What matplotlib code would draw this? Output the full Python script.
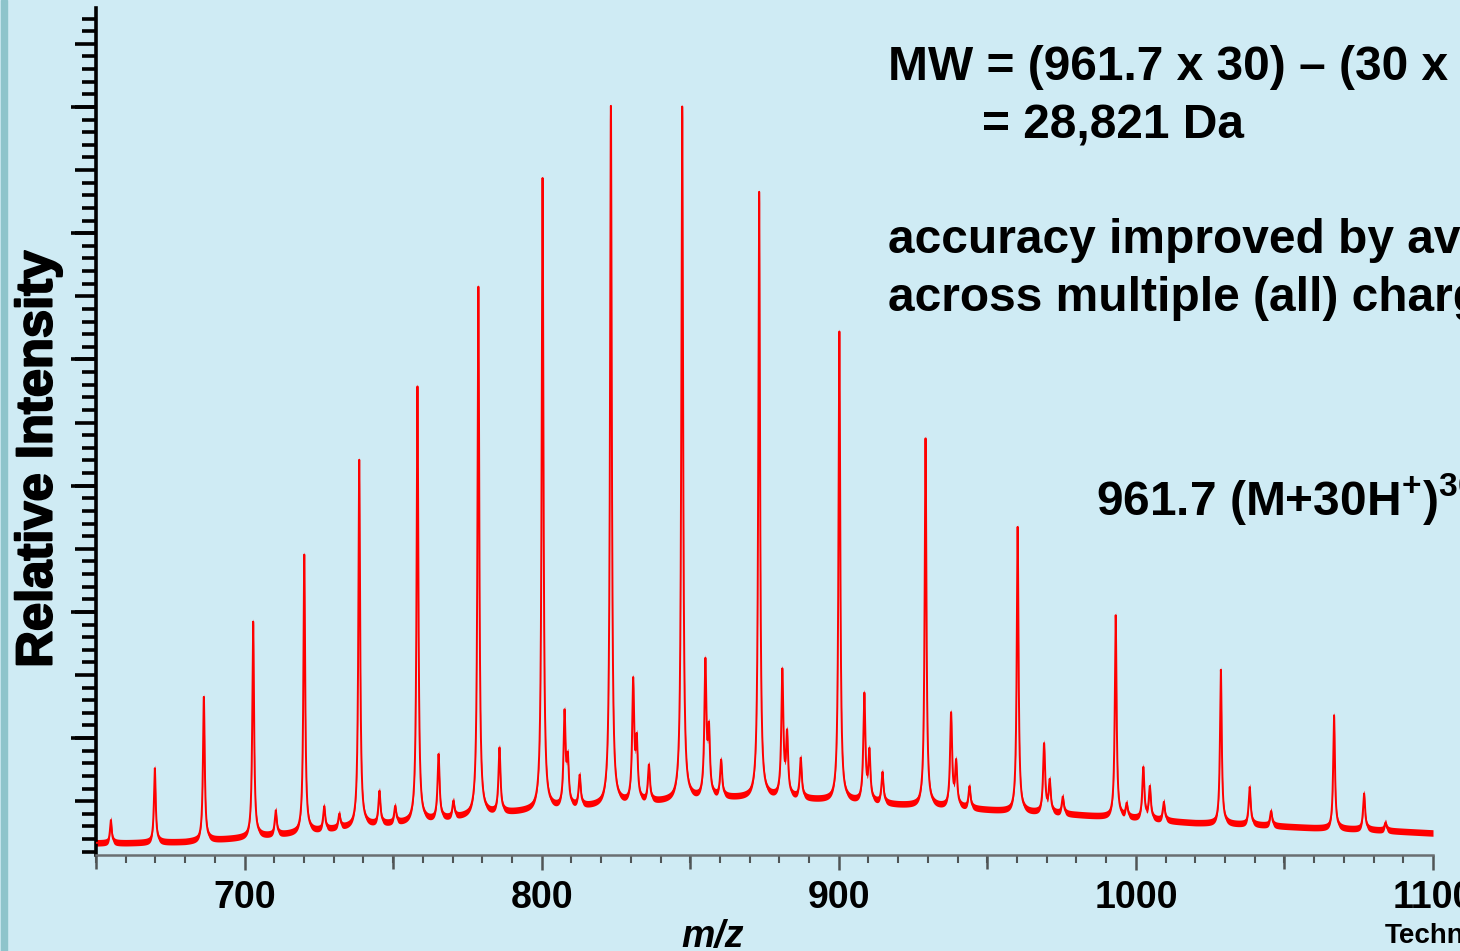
import numpy as np
import matplotlib
matplotlib.use("Agg")
import matplotlib.pyplot as plt
from matplotlib.ticker import MultipleLocator
import matplotlib.patheffects as pe

# ---------------- data ----------------
# charge-state (main) peaks: m/z and apex intensity (axis units)
main_mz = [655.0, 669.8, 686.3, 702.9, 720.1, 738.6, 758.2, 778.7, 800.3,
           823.3, 847.3, 873.2, 900.2, 929.2, 960.2, 993.2, 1028.6, 1066.7]
main_apex = [3.5, 7.6, 13.25, 19.2, 24.5, 32.0, 37.8, 45.7, 54.3,
             60.0, 59.95, 53.2, 42.15, 33.7, 26.7, 19.7, 15.4, 11.8]

# adduct / satellite peaks
minor_mz = [710.5, 726.8, 731.9, 745.4, 750.7, 765.3, 770.3, 785.8, 807.7,
            808.8, 812.8, 830.8, 832.0, 836.1, 855.1, 856.3, 860.4, 881.0,
            882.6, 887.2, 908.6, 910.3, 914.7, 937.8, 939.5, 944.0, 969.1,
            971.0, 975.4, 996.9, 1002.5, 1004.7, 1009.4, 1038.3, 1045.5,
            1076.8, 1084.0]
minor_apex = [4.2, 4.5, 3.9, 5.7, 4.5, 8.6, 4.9, 9.1, 11.7,
              7.9, 6.9, 14.2, 9.3, 7.7, 15.7, 10.1, 8.1, 15.1,
              10.0, 8.3, 13.3, 8.7, 7.2, 11.8, 7.9, 6.1, 9.45,
              6.5, 5.3, 4.7, 7.6, 6.05, 4.9, 6.1, 4.2,
              5.6, 3.3]

# chemical-noise baseline level
base_mz = [650, 660, 680, 700, 720, 740, 760, 780, 800, 820, 840, 860,
           880, 900, 920, 940, 960, 980, 1000, 1020, 1040, 1060, 1080, 1100]
base_val = [1.69, 1.69, 1.77, 2.09, 2.48, 3.04, 3.35, 3.91, 4.30, 4.62, 4.94, 5.25,
            5.25, 5.02, 4.70, 4.46, 4.14, 3.91, 3.59, 3.27, 3.12, 2.88, 2.72, 2.48]

x_tick_values = [700, 800, 900, 1000, 1100]
x_tick_labels = ["700", "800", "900", "1000", "1100"]

# ---------------- build the profile ----------------
mz = np.arange(650, 1100.001, 0.05)
baseline = np.interp(mz, base_mz, base_val)
spec = baseline.copy()
for m, a in zip(main_mz, main_apex):
    g = 0.35
    amp = a - np.interp(m, base_mz, base_val)
    spec += amp * g**2 / ((mz - m)**2 + g**2)
for m, a in zip(minor_mz, minor_apex):
    g = 0.4
    amp = a - np.interp(m, base_mz, base_val)
    spec += amp * g**2 / ((mz - m)**2 + g**2)

# ---------------- figure ----------------
BG = "#cfebf4"
W, H = 1460, 951
fig = plt.figure(figsize=(W / 100, H / 100), dpi=100, facecolor=BG)

FONT = "Liberation Sans"
plt.rcParams["mathtext.fontset"] = "custom"
plt.rcParams["mathtext.rm"] = "Liberation Sans:bold"
plt.rcParams["mathtext.bf"] = "Liberation Sans:bold"
plt.rcParams["mathtext.it"] = "Liberation Sans:bold:italic"

# left decorative bar
fig.patches.append(plt.Rectangle((1.5 / W, 0), 6 / W, 1, transform=fig.transFigure,
                                 color="#8ec4cb", zorder=0))

left, right = 96 / W, 1433 / W
bottom, top = (H - 855) / H, (H - 8) / H
ax = fig.add_axes([left, bottom, right - left, top - bottom])
ax.set_facecolor("none")

ax.fill_between(mz, spec - 0.26, spec + 0.26, color="red", lw=0, zorder=2)
ax.plot(mz, spec, color="red", lw=1.4, zorder=3)

ax.set_xlim(650, 1100)
ax.set_ylim(0.74, 67.84)

for s in ["top", "right"]:
    ax.spines[s].set_visible(False)
ax.spines["left"].set_linewidth(2.6)
ax.spines["left"].set_color("black")
ax.spines["bottom"].set_linewidth(1.8)
ax.spines["bottom"].set_color("#6a6f72")

# x ticks
ax.set_xticks(x_tick_values)
ax.set_xticklabels(x_tick_labels, fontfamily=FONT, fontweight="bold", fontsize=27)
ax.xaxis.set_minor_locator(MultipleLocator(10))
ax.tick_params(axis="x", which="major", length=11, width=1.8, color="#505556", pad=7)
ax.tick_params(axis="x", which="minor", length=6, width=1.5, color="#505556")
secx = ax.secondary_xaxis("bottom")
secx.set_xticks([650, 750, 850, 950, 1050])
secx.tick_params(length=10, width=1.8, color="#505556", labelbottom=False)
secx.spines["bottom"].set_visible(False)

# y ticks
ax.yaxis.set_major_locator(MultipleLocator(5))
ax.yaxis.set_minor_locator(MultipleLocator(1))
ax.tick_params(axis="y", which="major", length=15, width=2.6, color="black", labelleft=False)
ax.tick_params(axis="y", which="minor", length=10, width=2.6, color="black")
secy = ax.secondary_yaxis("left")
secy.set_yticks([10, 20, 30, 40, 50, 60])
secy.tick_params(length=18, width=2.6, color="black", labelleft=False)
secy.spines["left"].set_visible(False)

# axis titles
fig.text(38 / W, 1 - 459 / H, "Relative Intensity", rotation=90, ha="center", va="center",
         fontfamily=FONT, fontweight="bold", fontsize=36.5,
         path_effects=[pe.withStroke(linewidth=1.5, foreground="black")])
fig.text(713 / W, 1 - 947 / H, "m/z", ha="center", va="baseline",
         fontfamily=FONT, fontweight="bold", fontstyle="italic", fontsize=27)
fig.text(1385 / W, 1 - 943 / H, "Technology", ha="left", va="baseline",
         fontfamily=FONT, fontweight="bold", fontsize=20)

# annotations
TS = 34.5
fig.text(888 / W, 1 - 80 / H, "MW = (961.7 x 30) \u2013 (30 x 1.008)", ha="left", va="baseline",
         fontfamily=FONT, fontweight="bold", fontsize=TS)
fig.text(982 / W, 1 - 138 / H, "= 28,821 Da", ha="left", va="baseline",
         fontfamily=FONT, fontweight="bold", fontsize=TS)
fig.text(888 / W, 1 - 253 / H, "accuracy improved by averaging", ha="left", va="baseline",
         fontfamily=FONT, fontweight="bold", fontsize=TS)
fig.text(888 / W, 1 - 311 / H, "across multiple (all) charge states", ha="left", va="baseline",
         fontfamily=FONT, fontweight="bold", fontsize=TS)
fig.text(1096 / W, 1 - 515 / H, r"961.7 (M+30H$^{+}$)$^{30+}$", ha="left", va="baseline",
         fontfamily=FONT, fontweight="bold", fontsize=34.5)

fig.savefig("out.png", dpi=100, facecolor=BG)
